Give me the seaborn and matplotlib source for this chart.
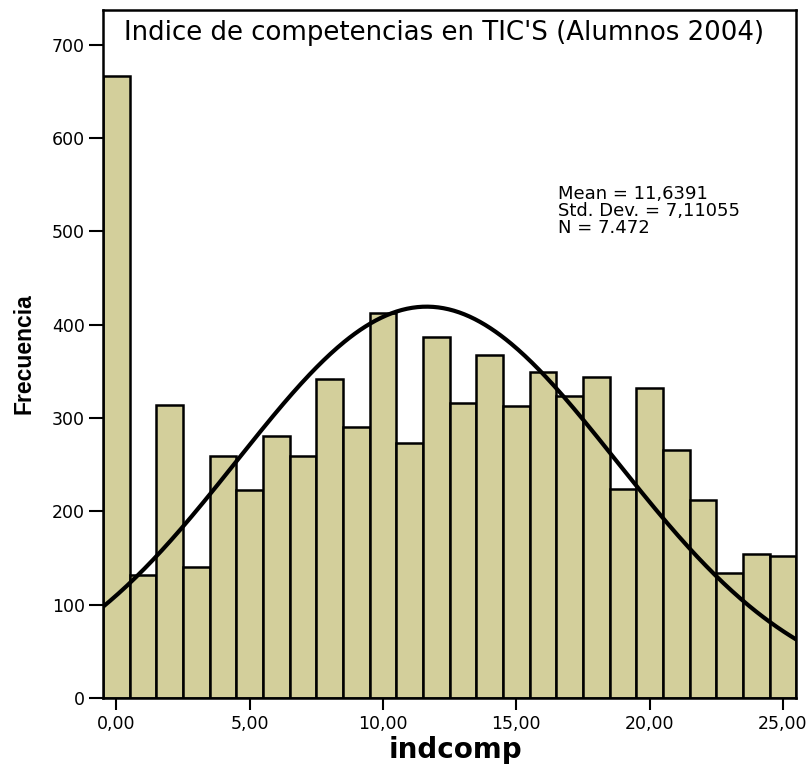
import numpy as np
import pandas as pd
import matplotlib
matplotlib.use("Agg")
import matplotlib.pyplot as plt
import seaborn as sns

# valores de indcomp y frecuencias
indcomp = list(range(0, 26))
frecuencia = [666, 132, 314, 140, 259, 223, 281, 259, 342, 290, 412, 273, 387,
              316, 367, 313, 349, 323, 344, 224, 332, 266, 212, 134, 154, 152]

media = 11.6391
desv = 7.11055
n_total = 7472

xticks = [0, 5, 10, 15, 20, 25]
xtick_labels = ["0,00", "5,00", "10,00", "15,00", "20,00", "25,00"]
yticks = [0, 100, 200, 300, 400, 500, 600, 700]

df = pd.DataFrame({"indcomp": indcomp, "frecuencia": frecuencia})

sns.set_style("white")
plt.rcParams['font.family'] = ['DejaVu Sans']
for k in ["text.color", "axes.labelcolor", "xtick.color", "ytick.color"]:
    plt.rcParams[k] = "black"

fig = plt.figure(figsize=(8.1, 7.69), dpi=100)
ax = fig.add_axes([0.127, 0.0923, 0.856, 0.8947])

sns.histplot(data=df, x="indcomp", weights="frecuencia", discrete=True,
             color="#D3CF9B", alpha=1, edgecolor="black", linewidth=1.8, ax=ax)

# curva normal con la media y desviacion del resumen
xs = np.linspace(-0.5, 25.5, 400)
curva = n_total / (desv * np.sqrt(2 * np.pi)) * np.exp(-0.5 * ((xs - media) / desv) ** 2)
sns.lineplot(x=xs, y=curva, color="black", linewidth=3.0, ax=ax)

ax.set_xlim(-0.5, 25.5)
ax.set_ylim(0, 737)
ax.set_xticks(xticks)
ax.set_xticklabels(xtick_labels)
ax.set_yticks(yticks)
ax.tick_params(axis="y", direction="out", length=10, width=1.5, labelsize=12.5,
               left=True, pad=3)
ax.tick_params(axis="x", direction="out", length=8.5, width=1.5, labelsize=12.5,
               bottom=True, pad=4)
for s in ax.spines.values():
    s.set_color("black")
    s.set_linewidth(1.8)

ax.set_xlabel("indcomp", fontsize=20, fontweight="bold", va="top")
ax.xaxis.set_label_coords(0.509, -0.055)
ax.set_ylabel("Frecuencia", fontsize=16.5, fontweight="bold",
              family=["Liberation Sans", "DejaVu Sans"])
ax.yaxis.set_label_coords(-0.097, 0.501)

ax.text(0.492, 0.985, "Indice de competencias en TIC'S (Alumnos 2004)",
        transform=ax.transAxes, ha="center", va="top", fontsize=18.7)
ax.text(0.657, 0.746, "Mean = 11,6391\nStd. Dev. = 7,11055\nN = 7.472",
        transform=ax.transAxes, ha="left", va="top", fontsize=13, linespacing=0.93)

fig.savefig("out.png", dpi=100)
